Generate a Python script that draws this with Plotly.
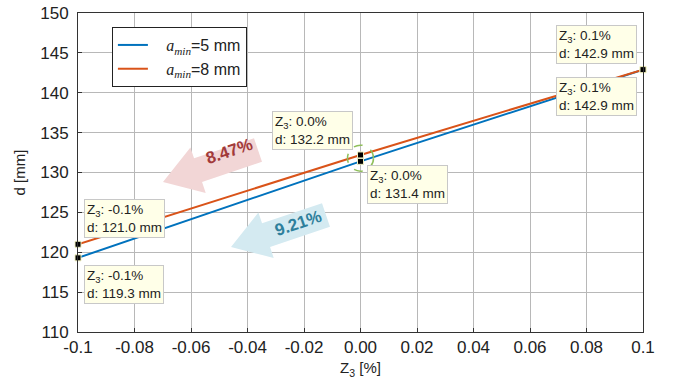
import math
import plotly.graph_objects as go

# ---- data ----
z3 = [-0.1, 0.0, 0.1]
d_amin5 = [119.3, 131.4, 142.9]
d_amin8 = [121.0, 132.2, 142.9]
series_names = ["a_min=5 mm", "a_min=8 mm"]
x_tickvals = [-0.1, -0.08, -0.06, -0.04, -0.02, 0.0, 0.02, 0.04, 0.06, 0.08, 0.1]
x_ticktext = ["-0.1", "-0.08", "-0.06", "-0.04", "-0.02", "0.00", "0.02", "0.04", "0.06", "0.08", "0.1"]
y_tickvals = [110, 115, 120, 125, 130, 135, 140, 145, 150]
reductions = ["8.47%", "9.21%"]

W, H = 679, 392
ML, MR, MT, MB = 78, 36, 13, 60
XR = [-0.1, 0.1]
YR = [110, 150]
pw = W - ML - MR
ph = H - MT - MB

def px2data(px, py):
    x = XR[0] + (px - ML) / pw * (XR[1] - XR[0])
    y = YR[1] - (py - MT) / ph * (YR[1] - YR[0])
    return x, y

def arrow_path(tip, tail, shaft_hw, head_hw, head_len):
    tx, ty = tip
    cx, cy = tail
    dx, dy = tx - cx, ty - cy
    L = math.hypot(dx, dy)
    ux, uy = dx / L, dy / L
    nx, ny = -uy, ux
    bx, by = tx - ux * head_len, ty - uy * head_len
    pts = [
        (cx + nx * shaft_hw, cy + ny * shaft_hw),
        (bx + nx * shaft_hw, by + ny * shaft_hw),
        (bx + nx * head_hw, by + ny * head_hw),
        (tx, ty),
        (bx - nx * head_hw, by - ny * head_hw),
        (bx - nx * shaft_hw, by - ny * shaft_hw),
        (cx - nx * shaft_hw, cy - ny * shaft_hw),
    ]
    dpts = [px2data(*p) for p in pts]
    return "M " + " L ".join(f"{x:.6f},{y:.4f}" for x, y in dpts) + " Z"

blue = "#0072BD"
orange = "#D95319"
font_main = "Liberation Sans, Arial, sans-serif"

def legend_label(n):
    return ("&nbsp;&nbsp;&nbsp;<span style='font-family:Liberation Serif'><i>a</i><sub><i>min</i></sub></span>="
            + n.split("=")[1])

fig = go.Figure()
fig.add_trace(go.Scatter(x=z3, y=d_amin5, mode="lines", line=dict(color=blue, width=2),
                         name=legend_label(series_names[0])))
fig.add_trace(go.Scatter(x=z3, y=d_amin8, mode="lines", line=dict(color=orange, width=2),
                         name=legend_label(series_names[1])))
# data-tip markers
fig.add_trace(go.Scatter(x=z3 + z3, y=d_amin5 + d_amin8, mode="markers", showlegend=False,
                         marker=dict(symbol="square", size=6, color="black",
                                     line=dict(color="#f0f0c0", width=1)),
                         cliponaxis=False))

tip_bg = "#ffffe8"
tip_border = "#c8c8c8"

def tip(x, y, xanchor, yanchor, xs, ys):
    pct = f"{x:.1f}%"
    fig.add_annotation(x=x, y=y, xref="x", yref="y", showarrow=False,
                       text=f"Z<sub>3</sub>: {pct}<br>d: {y:.1f} mm", align="left",
                       xanchor=xanchor, yanchor=yanchor, xshift=xs, yshift=ys,
                       font=dict(family=font_main, size=13.5, color="#222"),
                       bgcolor=tip_bg, bordercolor=tip_border, borderwidth=1, borderpad=2)

tip(z3[2], d_amin8[2], "right", "bottom", -6, 6)
tip(z3[2], d_amin5[2], "right", "top", -6, -7)
tip(z3[1], d_amin8[1], "right", "bottom", -8, 5)
tip(z3[1], d_amin5[1], "left", "top", 6, -4)
tip(z3[0], d_amin8[0], "left", "bottom", 6, 6)
tip(z3[0], d_amin5[0], "left", "top", 6, -7)

# decorative arrows
pink_path = arrow_path((163, 182), (258, 150), 12.5, 24, 37)
blue_path = arrow_path((231, 247), (326, 215), 12.5, 24, 37)
fig.add_shape(type="path", path=pink_path, xref="x", yref="y",
              fillcolor="#f2d6d6", line=dict(width=0), layer="above")
fig.add_shape(type="path", path=blue_path, xref="x", yref="y",
              fillcolor="#d4eaf1", line=dict(width=0), layer="above")
ang = math.degrees(math.atan2(32, 95))
px_, py_ = px2data(229, 151)
fig.add_annotation(x=px_, y=py_, text=f"<b>{reductions[0]}</b>", showarrow=False, textangle=-ang,
                   font=dict(family=font_main, size=17, color="#a23a3a"))
bx_, by_ = px2data(298, 223)
fig.add_annotation(x=bx_, y=by_, text=f"<b>{reductions[1]}</b>", showarrow=False, textangle=-ang,
                   font=dict(family=font_main, size=17, color="#2e7f9c"))

# dashed circle around x=0 points
fig.add_shape(type="circle", xref="x", yref="y", xsizemode="pixel", ysizemode="pixel",
              xanchor=0.0, yanchor=(d_amin5[1] + d_amin8[1]) / 2,
              x0=-13, x1=13, y0=-13, y1=13,
              line=dict(color="#8fbf5a", width=1.5, dash="dash"))

axis_common = dict(showgrid=True, gridcolor="#b8b8b8", gridwidth=1, zeroline=False,
                   showline=True, linecolor="#333", linewidth=1, mirror=True,
                   ticks="inside", ticklen=4, tickcolor="#333", automargin=False,
                   tickfont=dict(family=font_main, size=17, color="#222"))

fig.update_layout(
    width=W, height=H, margin=dict(l=ML, r=MR, t=MT, b=MB),
    paper_bgcolor="white", plot_bgcolor="white",
    xaxis=dict(range=XR, tickvals=x_tickvals, ticktext=x_ticktext,
               title=dict(text="Z<sub>3</sub> [%]", font=dict(family=font_main, size=15, color="#222"), standoff=6),
               **axis_common),
    yaxis=dict(range=YR, tickvals=y_tickvals, ticklabelstandoff=5,
               title=dict(text="d [mm]", font=dict(family=font_main, size=15, color="#222"), standoff=10),
               **axis_common),
    legend=dict(x=0.06, y=0.956, xanchor="left", yanchor="top", bgcolor="white",
                bordercolor="#222", borderwidth=1, font=dict(family=font_main, size=16, color="#222"),
                tracegroupgap=2),
    showlegend=True,
)

fig.write_html("out.html", config={"displayModeBar": False},
               post_script="document.body.style.margin='0px';")
